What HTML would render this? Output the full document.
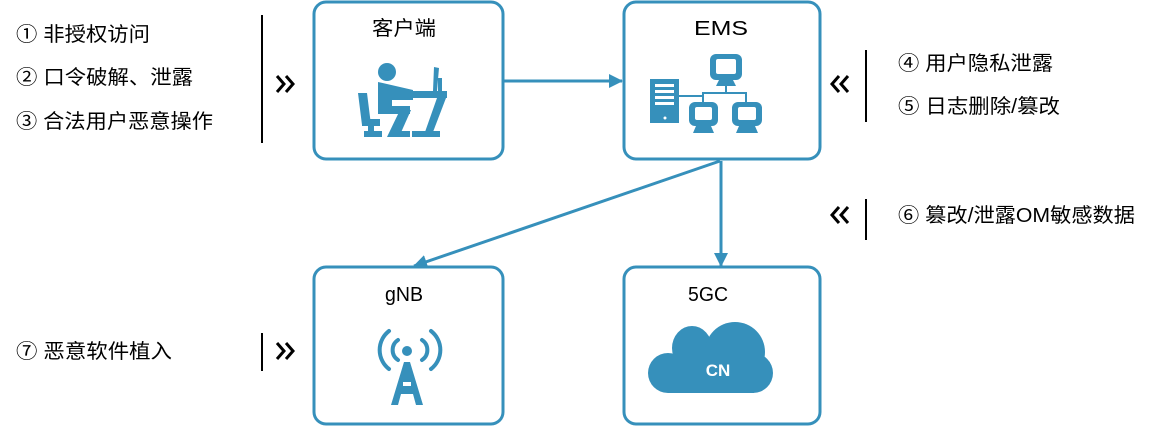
<!DOCTYPE html>
<html><head><meta charset="utf-8"><style>
html,body{margin:0;padding:0;background:#fff;width:1151px;height:427px;overflow:hidden}
svg{display:block}
text{font-family:"Liberation Sans","Noto Sans CJK SC",sans-serif}
</style></head><body>
<svg width="1151" height="427" viewBox="0 0 1151 427" xmlns="http://www.w3.org/2000/svg">
<defs><marker id="ah2" markerWidth="14" markerHeight="14" refX="13" refY="7" orient="auto" markerUnits="userSpaceOnUse"><path d="M0,0 L14,7 L0,14 z" fill="#3690bb"/></marker></defs>
<g fill="none" stroke="#3690bb" stroke-width="3">
<rect x="314" y="2" width="189" height="157" rx="12"/>
<rect x="624" y="2" width="196" height="157" rx="12"/>
<rect x="314" y="267" width="189" height="157" rx="12"/>
<rect x="624" y="267" width="196" height="157" rx="12"/>
</g>
<g stroke="#3690bb" stroke-width="3" fill="none">
<line x1="503" y1="81" x2="622" y2="81" marker-end="url(#ah2)"/>
<line x1="720" y1="161" x2="414" y2="266" marker-end="url(#ah2)"/>
<line x1="721" y1="161" x2="721" y2="266" marker-end="url(#ah2)"/>
</g>
<g font-size="20" fill="#000">
<text x="372" y="35" textLength="64" lengthAdjust="spacingAndGlyphs">客户端</text>
<text x="694" y="35" textLength="54" lengthAdjust="spacingAndGlyphs">EMS</text>
<text x="385" y="301" textLength="38" lengthAdjust="spacingAndGlyphs">gNB</text>
<text x="688" y="301" textLength="40" lengthAdjust="spacingAndGlyphs">5GC</text>
</g>
<!-- person icon -->
<g fill="#3690bb">
<circle cx="387" cy="72" r="9"/>
<path d="M378,82 L413,90 L413,100 L392,100 L392,106 L410,106 L410,114 L378,114 Z"/>
<path d="M400,110 L411,110 L399,137 L387,137 Z"/>
<rect x="393" y="131" width="17" height="6"/>
<path d="M358,93 L367,93 L371,125 L362,125 Z"/>
<rect x="362" y="119" width="18" height="7"/>
<rect x="368" y="126" width="6" height="8"/>
<rect x="364" y="131" width="18" height="6"/>
<rect x="405" y="91" width="42" height="7"/>
<path d="M437,98 L446,98 L433,132 L425,132 Z"/>
<rect x="412" y="131" width="28" height="6"/>
<path d="M434,67 L439,68 L437,91 L433,91 Z"/>
<rect x="438" y="78" width="4" height="14"/>
</g>
<!-- EMS network icon -->
<g fill="#3690bb">
<rect x="650" y="79" width="29" height="44"/>
<g fill="#fff"><rect x="655" y="84" width="19" height="3"/><rect x="655" y="90" width="19" height="3"/><rect x="655" y="96" width="19" height="3"/><rect x="655" y="102" width="19" height="3"/><circle cx="665" cy="118" r="1.5"/></g>
<rect x="710" y="54" width="32" height="26" rx="6"/><path d="M719,80 L733,80 L736,86 L716,86 Z"/>
<rect x="689" y="102" width="29" height="24" rx="6"/><path d="M696,126 L711,126 L714,133 L693,133 Z"/>
<rect x="732" y="102" width="30" height="24" rx="6"/><path d="M739,126 L755,126 L758,133 L736,133 Z"/>
<g fill="#fff"><rect x="716" y="59" width="20" height="15" rx="2"/><rect x="695" y="107" width="17" height="13" rx="2"/><rect x="738" y="107" width="18" height="13" rx="2"/></g>
</g>
<g stroke="#3690bb" stroke-width="2" fill="none"><path d="M679,96 L703,96 M703,102 L703,93 L746,93 L746,102 M726,93 L726,86"/></g>
<!-- antenna -->
<g fill="none" stroke="#3690bb" stroke-width="4" stroke-linecap="round">
<path d="M389,331 A24,24 0 0 0 389,369"/><path d="M431,331 A24,24 0 0 1 431,369"/>
<path d="M398,340 A12,12 0 0 0 398,360"/><path d="M422,340 A12,12 0 0 1 422,360"/>
</g>
<g fill="#3690bb"><circle cx="407" cy="351" r="5"/><path d="M404,362 L410,362 L423,405 L416,405 L413,394 L401,394 L398,405 L391,405 Z"/></g>
<rect x="403" y="382" width="8" height="4" fill="#fff"/>
<!-- cloud -->
<g fill="#3690bb">
<ellipse cx="692" cy="348" rx="20" ry="22"/><circle cx="735" cy="352" r="30"/><circle cx="753" cy="373" r="20"/><circle cx="668" cy="373" r="20"/>
<rect x="668" y="360" width="86" height="33"/>
</g>
<text x="718" y="376" font-size="17" font-weight="bold" fill="#fff" text-anchor="middle">CN</text>
<!-- side text -->
<g font-size="20" fill="#000">
<text x="16" y="41" textLength="134" lengthAdjust="spacingAndGlyphs">① 非授权访问</text>
<text x="16" y="84" textLength="177" lengthAdjust="spacingAndGlyphs">② 口令破解、泄露</text>
<text x="16" y="128" textLength="197" lengthAdjust="spacingAndGlyphs">③ 合法用户恶意操作</text>
<text x="16" y="358" textLength="156" lengthAdjust="spacingAndGlyphs">⑦ 恶意软件植入</text>
<text x="898" y="70" textLength="155" lengthAdjust="spacingAndGlyphs">④ 用户隐私泄露</text>
<text x="898" y="113" textLength="162" lengthAdjust="spacingAndGlyphs">⑤ 日志删除/篡改</text>
<text x="898" y="222" textLength="237" lengthAdjust="spacingAndGlyphs">⑥ 篡改/泄露OM敏感数据</text>
</g>
<g stroke="#000" stroke-width="2">
<line x1="262" y1="15" x2="262" y2="143"/>
<line x1="262" y1="333" x2="262" y2="371"/>
<line x1="866" y1="50" x2="866" y2="122"/>
<line x1="866" y1="199" x2="866" y2="240"/>
</g>
<g stroke="#000" stroke-width="3" fill="none">
<path d="M277,76 L284,84 L277,92 M286,76 L293,84 L286,92"/>
<path d="M277,343 L284,351 L277,359 M286,343 L293,351 L286,359"/>
<path d="M839,76 L832,84 L839,92 M848,76 L841,84 L848,92"/>
<path d="M839,207 L832,215 L839,223 M848,207 L841,215 L848,223"/>
</g>
</svg>
</body></html>
